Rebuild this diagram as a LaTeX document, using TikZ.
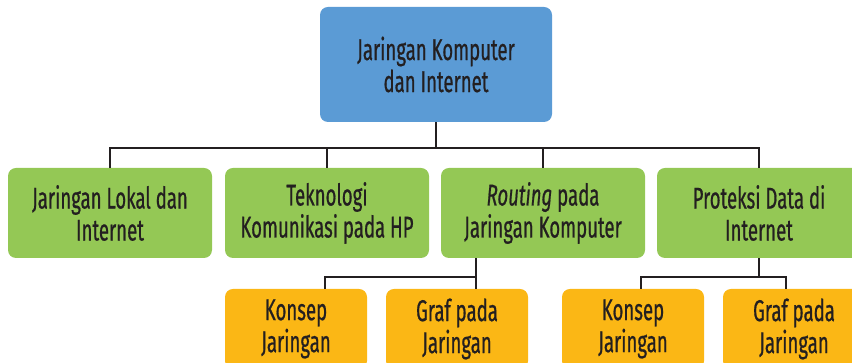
\documentclass[tikz,border=0pt]{standalone}
\usepackage{fontspec}
\setmainfont{Fira Sans}[FakeStretch=0.62,FakeBold=0.6]
\usepackage{tikz}
\definecolor{biru}{HTML}{5B9BD5}
\definecolor{hijau}{HTML}{94C855}
\definecolor{oranye}{HTML}{FBB715}
\definecolor{teks}{HTML}{231F20}

\begin{document}
\begin{tikzpicture}[x=1pt,y=1pt,
  kotak/.style={rounded corners=8pt,align=center,text=teks,inner sep=0pt,font=\fontsize{30}{32}\selectfont},
  induk/.style={kotak,fill=biru,minimum width=232,minimum height=115},
  bab/.style={kotak,fill=hijau,minimum width=204,minimum height=90},
  subbab/.style={kotak,fill=oranye,minimum width=142,minimum height=80},
  garis/.style={draw=teks,line width=1.6pt}]
\useasboundingbox (0,0) rectangle (852,363);
\clip (0,0) rectangle (852,363);
\node[induk] (utama) at (436,298.5) {Jaringan Komputer\\dan Internet};
\node[bab] (lokal) at (110,150) {Jaringan Lokal dan\\Internet};
\node[bab] (hp) at (327,150) {Teknologi\\Komunikasi pada HP};
\node[bab] (routing) at (543,150) {\textit{Routing} pada\\Jaringan Komputer};
\node[bab] (proteksi) at (759,150) {Proteksi Data di\\Internet};
\node[subbab] (konsepa) at (296,34) {Konsep\\Jaringan};
\node[subbab] (grafa) at (457,34) {Graf pada\\Jaringan};
\node[subbab] (konsepb) at (633,34) {Konsep\\Jaringan};
\node[subbab] (grafb) at (794,34) {Graf pada\\Jaringan};
\coordinate (bus) at (0,215);
\coordinate (cabanga) at (476,86);
\coordinate (kakia) at (325,86);
\coordinate (cabangb) at (759,86);
\coordinate (kakib) at (641,86);
\coordinate (kakic) at (786,86);
\draw[garis] (utama.south) -- (utama.south |- bus);
\draw[garis] (lokal.north) |- (proteksi.north |- bus) -- (proteksi.north);
\draw[garis] (hp.north) -- (hp.north |- bus);
\draw[garis] (routing.north) -- (routing.north |- bus);
\draw[garis] (routing.south -| cabanga) -- (grafa.north -| cabanga);
\draw[garis] (cabanga) -- (kakia) -- (konsepa.north -| kakia);
\draw[garis] (proteksi.south) -- (cabangb);
\draw[garis] (konsepb.north -| kakib) |- (kakic) -- (grafb.north -| kakic);
\end{tikzpicture}
\end{document}
